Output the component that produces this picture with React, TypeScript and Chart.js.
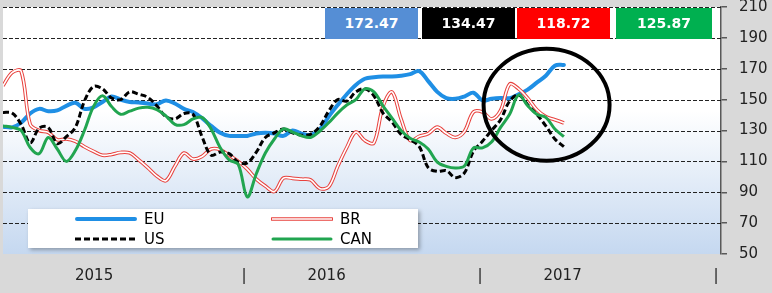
import { useEffect, useRef } from 'react';
import { Chart, registerables } from 'chart.js';

Chart.register(...registerables);

// Time axis (years); samples are biweekly
const X_MIN = 2014.979;
const X_MAX = 2018.021;
const START = 2014.979;
const STEP = 2 / 52.18;

const EU = [132.5, 132, 135, 141, 144, 142.5, 143, 146, 148, 144, 145, 148.5, 152, 150, 148.5, 148.2, 147.5, 147, 149.5, 147.5, 144, 142, 138, 133, 128.5, 126.5, 126.5, 126.5, 128, 128.5, 128, 126.5, 130, 128, 127, 130.5, 139, 146.5, 153.5, 159.5, 163.5, 164.5, 165, 165, 165.5, 166.5, 168.5, 162, 155, 151, 150.5, 152, 154.5, 149.5, 150.5, 151, 151, 153.5, 156.5, 161, 165.5, 172, 172.5];
const BR = [159, 167.5, 168.5, 134, 130, 128.8, 124, 124.5, 123, 119.5, 116.5, 114, 114.5, 115.8, 115.5, 111, 106, 100.5, 97.5, 106.8, 115.4, 111.5, 113.2, 118, 117.6, 114, 110, 105, 98.5, 94, 90.5, 99.2, 99, 98.5, 98, 92.5, 93.5, 106.8, 119, 129, 123.5, 122, 145.6, 155, 137.5, 123.5, 126.2, 128, 132.2, 128.2, 125.5, 129.4, 142, 142, 137.5, 143, 160, 157, 151, 143.5, 139, 137, 134.9];
const US = [141.7, 141.3, 134, 122, 131.5, 132, 121.5, 126, 132, 149, 158.5, 157, 151, 150, 155, 153.5, 151.5, 146, 139, 137.5, 141, 140.5, 126, 114, 116, 115, 109.5, 109, 116, 125.5, 128.5, 131, 128.5, 127, 127.5, 132.5, 142.5, 150, 149, 155, 157, 152.5, 141.3, 135.5, 127.5, 124, 119.7, 106, 103.5, 104, 99.5, 102.5, 116.5, 123, 130, 137, 149, 153, 146.7, 140.5, 133, 124.5, 119.5];
const CAN = [133, 132, 130, 119, 115, 125.5, 118, 110, 117, 130, 145.5, 152.5, 145.5, 140.5, 142.5, 144.5, 145, 143.5, 139.5, 134, 133.8, 137.5, 138.5, 131, 119, 111, 108, 87, 102, 115.4, 124.5, 131, 129, 126.5, 125.5, 129.5, 135, 141.3, 146.5, 150, 157, 155, 146, 138, 130, 125, 122.5, 118, 109.5, 106.8, 105.7, 107, 118.7, 118.7, 122.5, 132, 140.5, 153, 146, 140.5, 138.5, 131, 126];

const Y_MIN = 50;
const Y_MAX = 210;
const Y_STEP = 20;
const X_TICK_VALUES = [2015.365, 2016, 2016.35, 2017, 2017.35, 2018];
const X_TICK_LABELS = ['2015', '|', '2016', '|', '2017', '|'];

const BOX_VALUES = ['172.47', '134.47', '118.72', '125.87'];
const BOX_COLORS = ['#558ed5', '#000000', '#ff0000', '#00b050'];

const SERIES_NAMES = ['EU', 'BR', 'US', 'CAN'];
const COLORS = { EU: '#1f8fe5', BR: '#e8413d', US: '#000000', CAN: '#21a550' };

// annotation ellipse (center in data units)
const CIRCLE_X = 2017.282;
const CIRCLE_Y = 146.7;

const FONT = 'DejaVu Sans';

const toPts = (arr: number[]) => arr.map((v, i) => ({ x: START + i * STEP, y: v }));

const bgPlugin = {
  id: 'bg',
  beforeDraw(chart: any) {
    const { ctx, chartArea, width, height } = chart;
    const { left, top, right, bottom } = chartArea;
    ctx.save();
    ctx.fillStyle = '#d9d9d9';
    ctx.fillRect(0, 0, width, height);
    const g = ctx.createLinearGradient(0, top, 0, bottom);
    g.addColorStop(0, '#ffffff');
    g.addColorStop(0.42, '#ffffff');
    g.addColorStop(1, '#c5d8f0');
    ctx.fillStyle = g;
    ctx.fillRect(left, top, right - left, bottom - top);
    ctx.restore();
  },
};

const gridPlugin = {
  id: 'dashgrid',
  beforeDatasetsDraw(chart: any) {
    const { ctx, chartArea, scales } = chart;
    ctx.save();
    ctx.strokeStyle = '#222';
    ctx.lineWidth = 1;
    ctx.setLineDash([4, 2]);
    for (let v = Y_MIN + Y_STEP; v <= Y_MAX; v += Y_STEP) {
      const y = Math.round(scales.y.getPixelForValue(v)) + 0.5;
      ctx.beginPath();
      ctx.moveTo(chartArea.left, y);
      ctx.lineTo(chartArea.right, y);
      ctx.stroke();
    }
    ctx.restore();
  },
};

const ellipsePlugin = {
  id: 'ellipse',
  afterDatasetsDraw(chart: any) {
    const { ctx, scales } = chart;
    const cx = scales.x.getPixelForValue(CIRCLE_X);
    const cy = scales.y.getPixelForValue(CIRCLE_Y);
    ctx.save();
    ctx.strokeStyle = '#000';
    ctx.lineWidth = 4;
    ctx.beginPath();
    ctx.ellipse(cx, cy, 63, 56, 0, 0, Math.PI * 2);
    ctx.stroke();
    ctx.restore();
  },
};

function LegendLine({ name }: { name: string }) {
  if (name === 'BR') {
    return (
      <svg width={62} height={8} style={{ display: 'block' }}>
        <line x1={1} y1={4} x2={61} y2={4} stroke={COLORS.BR} strokeWidth={3.6} strokeLinecap="round" />
        <line x1={1} y1={4} x2={61} y2={4} stroke="#fff" strokeWidth={1.6} />
      </svg>
    );
  }
  if (name === 'US') {
    return (
      <svg width={62} height={8} style={{ display: 'block' }}>
        <line x1={0} y1={4} x2={62} y2={4} stroke="#000" strokeWidth={3} strokeDasharray="6 3" />
      </svg>
    );
  }
  const c = (COLORS as any)[name];
  return (
    <svg width={62} height={8} style={{ display: 'block' }}>
      <line x1={2} y1={4} x2={60} y2={4} stroke={c} strokeWidth={name === 'EU' ? 4 : 3} strokeLinecap="round" />
    </svg>
  );
}

export default function App() {
  const ref = useRef<HTMLCanvasElement | null>(null);

  useEffect(() => {
    document.body.style.margin = '0';
    const common = { pointRadius: 0, tension: 0.35, fill: false };
    const chart = new Chart(ref.current as HTMLCanvasElement, {
      type: 'line',
      data: {
        datasets: [
          { label: 'CAN', data: toPts(CAN), borderColor: COLORS.CAN, borderWidth: 3, ...common },
          { label: 'US', data: toPts(US), borderColor: COLORS.US, borderWidth: 3, borderDash: [6, 3], ...common },
          { label: 'BR-inner', data: toPts(BR), borderColor: '#ffffff', borderWidth: 1.6, ...common },
          { label: 'BR', data: toPts(BR), borderColor: COLORS.BR, borderWidth: 3.6, ...common },
          { label: 'EU', data: toPts(EU), borderColor: COLORS.EU, borderWidth: 4, borderCapStyle: 'round', ...common },
        ] as any,
      },
      options: {
        responsive: false,
        animation: false,
        devicePixelRatio: 1,
        layout: { padding: { left: 3, top: 7, right: 0, bottom: 0 } },
        plugins: { legend: { display: false }, tooltip: { enabled: false } },
        scales: {
          x: {
            type: 'linear',
            min: X_MIN,
            max: X_MAX,
            grid: { display: false, drawTicks: false },
            border: { display: false },
            afterBuildTicks: (s: any) => {
              s.ticks = X_TICK_VALUES.map((v) => ({ value: v }));
            },
            afterFit: (s: any) => {
              s.height = 39;
              s.paddingLeft = 0;
              s.paddingRight = 0;
            },
            ticks: {
              autoSkip: false,
              maxRotation: 0,
              padding: 13,
              color: '#222',
              font: { family: FONT, size: 15 },
              callback: (_v: any, i: number) => X_TICK_LABELS[i],
            },
          },
          y: {
            position: 'right',
            min: Y_MIN,
            max: Y_MAX,
            grid: { drawOnChartArea: false, drawTicks: true, tickLength: 6, color: '#595959', lineWidth: 1.5 },
            border: { display: true, color: '#595959', width: 1.5 },
            afterFit: (s: any) => {
              s.width = 51;
              s.paddingTop = 0;
              s.paddingBottom = 0;
            },
            ticks: {
              stepSize: Y_STEP,
              padding: 12,
              color: '#222',
              font: { family: FONT, size: 15 },
            },
          },
        },
      } as any,
      plugins: [bgPlugin, gridPlugin, ellipsePlugin],
    });
    return () => chart.destroy();
  }, []);

  const boxLeft = [325, 422, 517, 616];
  const boxWidth = [93, 93, 93, 96];

  const legendPos: Record<string, { x: number; y: number }> = {
    EU: { x: 47, y: 10 },
    BR: { x: 243, y: 10 },
    US: { x: 47, y: 30 },
    CAN: { x: 243, y: 30 },
  };

  return (
    <div style={{ position: 'relative', width: 772, height: 293, overflow: 'hidden' }}>
      <canvas ref={ref} width={772} height={293} style={{ position: 'absolute', left: 0, top: 0 }} />
      {BOX_VALUES.map((v, i) => (
        <div
          key={v}
          style={{
            position: 'absolute',
            left: boxLeft[i],
            top: 8,
            width: boxWidth[i],
            height: 31,
            background: BOX_COLORS[i],
            color: '#ffffff',
            fontFamily: FONT,
            fontWeight: 'bold',
            fontSize: 14,
            lineHeight: '31px',
            textAlign: 'center',
          }}
        >
          {v}
        </div>
      ))}
      <div
        style={{
          position: 'absolute',
          left: 28,
          top: 209,
          width: 390,
          height: 39,
          background: '#ffffff',
          boxShadow: '2px 2px 4px rgba(0,0,0,0.3)',
        }}
      >
        {SERIES_NAMES.map((n) => (
          <div key={n}>
            <div style={{ position: 'absolute', left: legendPos[n].x, top: legendPos[n].y - 4 }}>
              <LegendLine name={n} />
            </div>
            <div
              style={{
                position: 'absolute',
                left: legendPos[n].x + 69,
                top: legendPos[n].y - 9,
                fontFamily: FONT,
                fontSize: 15,
                lineHeight: '18px',
                color: '#000',
              }}
            >
              {n}
            </div>
          </div>
        ))}
      </div>
    </div>
  );
}
